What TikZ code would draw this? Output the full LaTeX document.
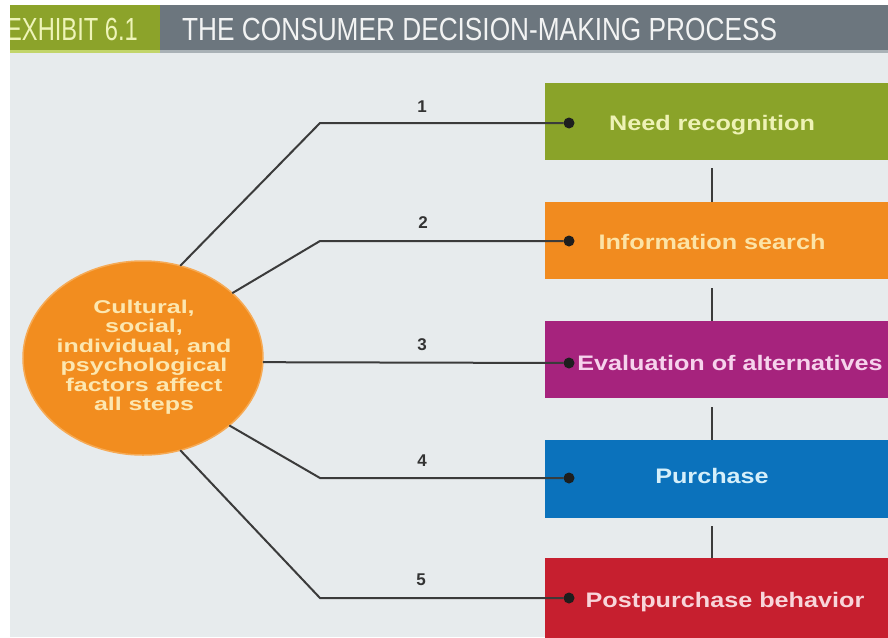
\documentclass[tikz,border=0pt]{standalone}
\usepackage{fontspec}
\setmainfont{Liberation Sans}
\newfontfamily\boxfont[FakeStretch=1.2]{Liberation Sans Bold}
\newfontfamily\circfont[FakeStretch=1.35]{Liberation Sans Bold}
\newfontfamily\titlefont[FakeStretch=0.82]{Liberation Sans}
\newfontfamily\exhfont[FakeStretch=0.74]{Liberation Sans}
\newfontfamily\numfont{Liberation Sans Bold}
\usetikzlibrary{shapes.geometric}
\definecolor{bgc}{HTML}{E7EBED}
\definecolor{tabgreen}{HTML}{8CA32A}
\definecolor{tabgreenlt}{HTML}{C2D56A}
\definecolor{titlegray}{HTML}{6C767E}
\definecolor{titlegraylt}{HTML}{A9B1B6}
\definecolor{exhc}{HTML}{EEF4B8}
\definecolor{ttlc}{HTML}{F2F3F3}
\definecolor{gbox}{HTML}{8AA329}
\definecolor{obox}{HTML}{F18B1F}
\definecolor{mbox}{HTML}{A6237D}
\definecolor{bbox}{HTML}{0B72BC}
\definecolor{rbox}{HTML}{C61F2F}
\definecolor{gtxt}{HTML}{EEF2B5}
\definecolor{otxt}{HTML}{FCE3A6}
\definecolor{mtxt}{HTML}{F6D3EC}
\definecolor{btxt}{HTML}{D5EFFA}
\definecolor{rtxt}{HTML}{F8D5DA}
\definecolor{circc}{HTML}{F28D1F}
\definecolor{circrim}{HTML}{F6AA55}
\definecolor{ctxt}{HTML}{FCE7B0}
\definecolor{linec}{HTML}{3B3B3B}
\definecolor{dotc}{HTML}{1E1E1E}
\definecolor{numc}{HTML}{333333}
\begin{document}
\begin{tikzpicture}[x=1pt,y=-1pt,
  stepbox/.style={rectangle, anchor=north west, minimum width=343pt, minimum height=77pt, inner sep=0pt, outer sep=0pt},
  steptext/.style={anchor=base, inner sep=0pt, font=\boxfont\fontsize{21}{25}\selectfont},
  conn/.style={draw=linec, line width=2pt},
  dotnode/.style={circle, fill=dotc, minimum size=11pt, inner sep=0pt, outer sep=0pt},
  num/.style={anchor=base, inner sep=0pt, text=numc, font=\numfont\fontsize{17}{20}\selectfont}]
\useasboundingbox (0,0) rectangle (888,637);
\fill[white] (0,0) rectangle (888,637);
\fill[bgc] (10,52) rectangle (888,637);
% title bar
\fill[tabgreen] (10,5) rectangle (160,50);
\fill[titlegray] (160,5) rectangle (888,50);
\fill[tabgreenlt] (10,50) rectangle (160,52.5);
\fill[titlegraylt] (160,50) rectangle (888,52.5);
\begin{scope}
  \clip (10,5) rectangle (160,50);
  \node[anchor=base east, inner sep=0pt, text=exhc, font=\exhfont\fontsize{32}{36}\selectfont] (exh) at (138,40) {EXHIBIT 6.1};
\end{scope}
\node[anchor=base west, inner sep=0pt, text=ttlc, font=\titlefont\fontsize{32}{36}\selectfont] (ttl) at (182,40) {THE CONSUMER DECISION-MAKING PROCESS};
% step boxes
\node[stepbox, fill=gbox] (b1) at (545,83) {};
\node[stepbox, fill=obox] (b2) at (545,202) {};
\node[stepbox, fill=mbox] (b3) at (545,321) {};
\node[stepbox, fill=bbox, minimum height=78pt] (b4) at (545,440) {};
\node[stepbox, fill=rbox, minimum height=80pt] (b5) at (545,558) {};
\node[steptext, text=gtxt] (t1) at (712,130) {Need recognition};
\node[steptext, text=otxt] (t2) at (712,249) {Information search};
\node[steptext, text=mtxt] (t3) at (730,370) {Evaluation of alternatives};
\node[steptext, text=btxt] (t4) at (712,483) {Purchase};
\node[steptext, text=rtxt] (t5) at (725,607) {Postpurchase behavior};
% vertical connectors
\coordinate (vx) at (712,0);
\draw[conn] (vx |- b1.south) ++(0,8) -- (vx |- b2.north);
\draw[conn] (vx |- b2.south) ++(0,9) -- (vx |- b3.north);
\draw[conn] (vx |- b3.south) ++(0,9) -- (vx |- b4.north);
\draw[conn] (vx |- b4.south) ++(0,8) -- (vx |- b5.north);
% factors ellipse
\node[ellipse, fill=circc, draw=circrim, line width=1.5pt, minimum width=240pt, minimum height=194pt, inner sep=0pt, outer sep=0pt] (c) at (143,358) {};
\node[align=center, inner sep=0pt, text=ctxt, font=\circfont\fontsize{18.5}{19.5}\selectfont] (ct) at (144,357) {Cultural,\\social,\\individual, and\\psychological\\factors affect\\all steps};
% dots
\node[dotnode] (d1) at (569,123) {};
\node[dotnode] (d2) at (569,241) {};
\node[dotnode] (d3) at (569,363) {};
\node[dotnode] (d4) at (569,478) {};
\node[dotnode] (d5) at (569,598) {};
% connectors
\coordinate (kx) at (320,0);
\draw[conn] (c.68) -- (kx |- d1) -- (d1);
\draw[conn] (c.36.6) -- (kx |- d2) -- (d2);
\draw[conn] (c.-2.4) -- (d3);
\draw[conn] (c.-38.7) -- (kx |- d4) -- (d4);
\draw[conn] (c.-68) -- (kx |- d5) -- (d5);
% numbers
\node[num] (n1) at (422,112) {1};
\node[num] (n2) at (423,228) {2};
\node[num] (n3) at (422,350) {3};
\node[num] (n4) at (422,466) {4};
\node[num] (n5) at (421,585) {5};
\end{tikzpicture}
\end{document}
